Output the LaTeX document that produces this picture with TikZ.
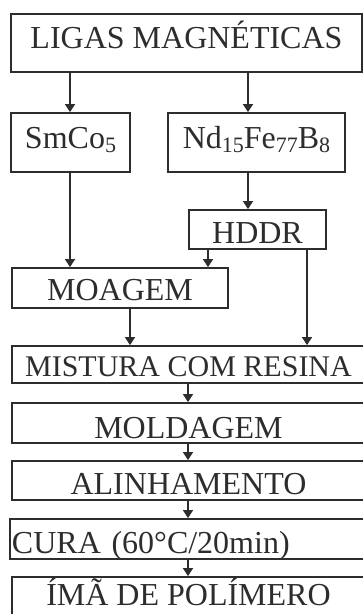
\documentclass[tikz,border=0pt]{standalone}
\usepackage{fontspec}
\setmainfont{Liberation Serif}
\usetikzlibrary{arrows.meta}
\definecolor{ink}{RGB}{45,45,45}
\newcommand{\subs}[1]{\raisebox{-4pt}{\fontsize{22}{22}\selectfont #1}}
\begin{document}
\begin{tikzpicture}[x=1pt,y=-1pt,
  box/.style={draw=ink, line width=1.8pt, inner sep=0pt, text=ink,
              font=\fontsize{32}{36}\selectfont},
  arr/.style={draw=ink, line width=1.4pt, -{Triangle[length=8pt,width=10pt]}},
]
\useasboundingbox (0,0) rectangle (363,614);
\clip (0,0) rectangle (363,614);
\fill[white] (0,0) rectangle (363,614);

\node[box, minimum width=351pt, minimum height=58pt, text height=21pt, text depth=11pt]
  (lig) at (186.5,43) {LIGAS MAGNÉTICAS};
\node[box, minimum width=119pt, minimum height=59pt, text height=21pt, text depth=9pt]
  (sm) at (70.5,142.5) {SmCo\subs{5}};
\node[box, minimum width=177pt, minimum height=59pt, text height=21pt, text depth=9pt]
  (nd) at (256.5,142.5) {Nd\subs{15}Fe\subs{77}B\subs{8}};
\node[box, minimum width=137pt, minimum height=39pt, text height=28pt, text depth=0pt]
  (hddr) at (257.5,229.5) {HDDR};
\node[box, minimum width=216pt, minimum height=40pt, text height=25pt, text depth=0pt]
  (moag) at (120,288) {MOAGEM};
\node[box, minimum width=353pt, minimum height=37pt, text height=24.7pt, text depth=0pt,
  font=\fontsize{30}{34}\selectfont]
  (mist) at (188.5,364.5) {MISTURA COM RESINA};
\node[box, minimum width=353pt, minimum height=40pt, text height=30pt, text depth=0pt]
  (mold) at (188.5,423) {MOLDAGEM};
\node[box, minimum width=353pt, minimum height=39pt, text height=28pt, text depth=0pt]
  (alin) at (188.5,480.5) {ALINHAMENTO};
\node[box, minimum height=40pt, text width=351pt, inner xsep=2pt, align=left,
  text height=28pt, text depth=0pt]
  (cura) at (187.5,539) {CURA (60°C/20min)};
\node[box, minimum width=353pt, minimum height=45pt, text height=21pt, text depth=9pt]
  (ima) at (188.5,599.5) {ÍMÃ DE POLÍMERO};

\coordinate (cA) at (70,0);
\coordinate (cB) at (248,0);
\coordinate (cC) at (208,0);
\coordinate (cD) at (307,0);
\coordinate (cE) at (130,0);
\coordinate (cF) at (188,0);

\draw[arr] (cA |- lig.south) -- (cA |- sm.north);
\draw[arr] (cB |- lig.south) -- (cB |- nd.north);
\draw[arr] (cA |- sm.south) -- (cA |- moag.north);
\draw[arr] (cB |- nd.south) -- (cB |- hddr.north);
\draw[arr] (cC |- hddr.south) -- (cC |- moag.north);
\draw[arr] (cD |- hddr.south) -- (cD |- mist.north);
\draw[arr] (cE |- moag.south) -- (cE |- mist.north);
\draw[arr] (cF |- mist.south) -- (cF |- mold.north);
\draw[arr] (cF |- mold.south) -- (cF |- alin.north);
\draw[arr] (cF |- alin.south) -- (cF |- cura.north);
\draw[arr] (cF |- cura.south) -- (cF |- ima.north);
\end{tikzpicture}
\end{document}
